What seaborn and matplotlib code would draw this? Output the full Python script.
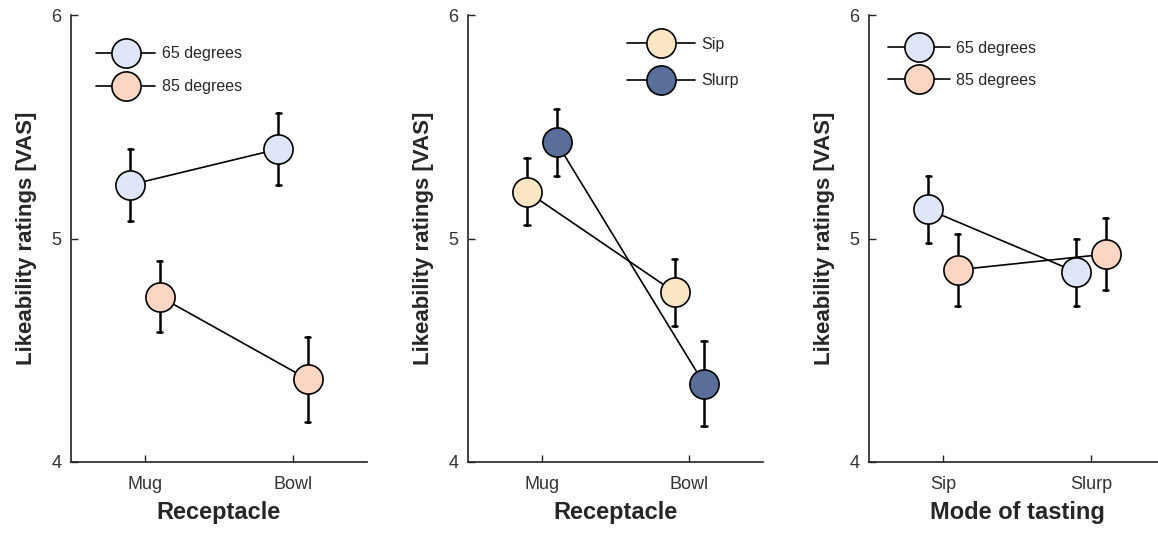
import numpy as np
import pandas as pd
import matplotlib
matplotlib.use("Agg")
import matplotlib.pyplot as plt
from matplotlib.lines import Line2D
import seaborn as sns

# panel 1: receptacle x temperature
receptacles = ["Mug", "Bowl"]
temps = ["65 degrees", "85 degrees"]
p1_mean = {"65 degrees": [5.24, 5.40], "85 degrees": [4.74, 4.37]}
p1_se = {"65 degrees": [0.16, 0.16], "85 degrees": [0.16, 0.19]}

# panel 2: receptacle x mode of tasting
modes = ["Sip", "Slurp"]
p2_mean = {"Sip": [5.21, 4.76], "Slurp": [5.43, 4.35]}
p2_se = {"Sip": [0.15, 0.15], "Slurp": [0.15, 0.19]}

# panel 3: mode of tasting x temperature
p3_mean = {"65 degrees": [5.13, 4.85], "85 degrees": [4.86, 4.93]}
p3_se = {"65 degrees": [0.15, 0.15], "85 degrees": [0.16, 0.16]}

temp_colors = {"65 degrees": "#dfe6fa", "85 degrees": "#fcd5c5"}
mode_colors = {"Sip": "#fce6c4", "Slurp": "#5a6e9a"}


def long_table(cats, means, ses):
    # two rows per cell (mean-se, mean+se) so the mean is the estimate and min/max is the bar
    rows = []
    for grp in means:
        for i, c in enumerate(cats):
            m, s = means[grp][i], ses[grp][i]
            rows.append((c, grp, m - s))
            rows.append((c, grp, m + s))
    return pd.DataFrame(rows, columns=["x", "group", "y"])


sns.set_style("ticks")
plt.rcParams["font.family"] = ["Liberation Sans", "DejaVu Sans"]

fig = plt.figure(figsize=(11.58, 5.58), dpi=100)
W, H = 1158, 558
boxes = [(71, 296), (468, 295), (869, 296)]
axes = [fig.add_axes([l / W, (H - 462) / H, w / W, 447 / H]) for l, w in boxes]

panels = [
    (receptacles, p1_mean, p1_se, temp_colors, "Receptacle",
     dict(anchor=(0.083, 0.93), hl=3.75, ls=1.12)),
    (receptacles, p2_mean, p2_se, mode_colors, "Receptacle",
     dict(anchor=(0.539, 0.951), hl=4.25, ls=1.35)),
    (modes, p3_mean, p3_se, temp_colors, "Mode of tasting",
     dict(anchor=(0.064, 0.942), hl=3.9, ls=1.05)),
]

for ax, (cats, means, ses, colors, xlabel, leg) in zip(axes, panels):
    df = long_table(cats, means, ses)
    sns.pointplot(data=df, x="x", y="y", hue="group", order=cats,
                  hue_order=list(means.keys()), palette=colors,
                  estimator="mean", errorbar=lambda v: (v.min(), v.max()),
                  dodge=0.2, capsize=0.035, markers="o", markersize=21,
                  linewidth=1.2, err_kws={"linewidth": 1.8}, ax=ax)
    for ln in ax.lines:
        if ln.get_marker() == "o":
            ln.set_markerfacecolor(ln.get_color())
            ln.set_markeredgecolor("black")
            ln.set_markeredgewidth(1.2)
            ln.set_zorder(3)
        ln.set_color("black")
    if ax.get_legend() is not None:
        ax.get_legend().remove()

    handles = [Line2D([], [], color="black", lw=1.2, marker="o", markersize=21,
                      markerfacecolor=colors[g], markeredgecolor="black",
                      markeredgewidth=1.2) for g in means]
    ax.legend(handles, list(means.keys()), loc="upper left",
              bbox_to_anchor=leg["anchor"], frameon=False, fontsize=11.5,
              handlelength=leg["hl"], handletextpad=0.38,
              labelspacing=leg["ls"], borderpad=0, borderaxespad=0)

    ax.set_xlim(-0.5, 1.5)
    ax.set_ylim(4, 6)
    ax.set_yticks([4, 5, 6])
    ax.set_xlabel(xlabel, fontsize=17, fontweight="bold", labelpad=6)
    ax.set_ylabel("Likeability ratings [VAS]", fontsize=16,
                  fontweight="bold", labelpad=10)
    ax.tick_params(direction="in", length=5, width=1, labelsize=13,
                   colors="#222222", labelcolor="#333333")
    ax.tick_params(axis="x", pad=10)
    ax.tick_params(axis="y", pad=7)
    sns.despine(ax=ax)
    for sp in ("left", "bottom"):
        ax.spines[sp].set_linewidth(1.2)
        ax.spines[sp].set_color("#222222")

fig.savefig("out.png", dpi=100)
